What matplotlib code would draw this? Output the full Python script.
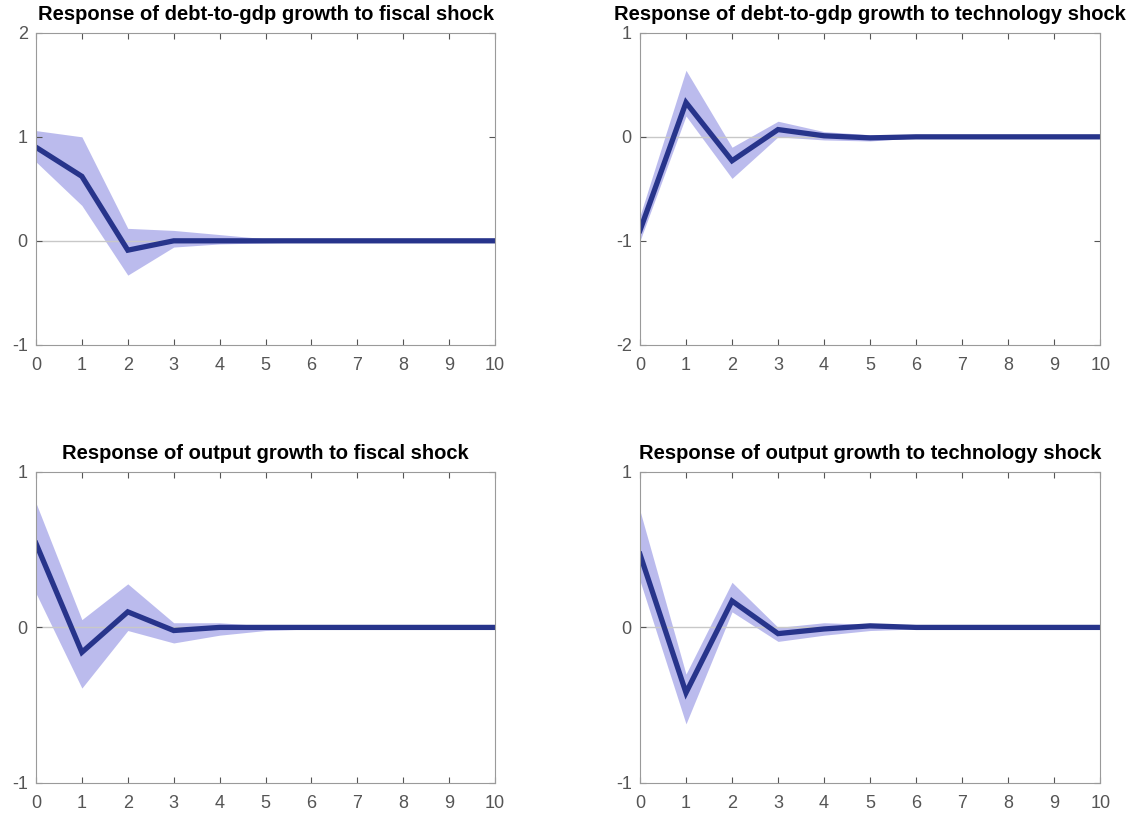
import numpy as np
import matplotlib
matplotlib.use('Agg')
import matplotlib.pyplot as plt

plt.rcParams['font.family'] = ['Liberation Sans', 'DejaVu Sans']
plt.rcParams['axes.unicode_minus'] = False

horizon = list(range(11))

titles = ['Response of debt-to-gdp growth to fiscal shock',
          'Response of debt-to-gdp growth to technology shock',
          'Response of output growth to fiscal shock',
          'Response of output growth to technology shock']

# median responses
debt_fiscal = [0.90, 0.62, -0.09, 0.00, 0.00, 0.00, 0.00, 0.00, 0.00, 0.00, 0.00]
debt_tech = [-0.90, 0.33, -0.23, 0.07, 0.01, -0.01, 0.00, 0.00, 0.00, 0.00, 0.00]
output_fiscal = [0.54, -0.16, 0.10, -0.02, 0.00, 0.00, 0.00, 0.00, 0.00, 0.00, 0.00]
output_tech = [0.47, -0.42, 0.17, -0.04, -0.01, 0.01, 0.00, 0.00, 0.00, 0.00, 0.00]

# error bands (upper / lower)
debt_fiscal_hi = [1.06, 1.00, 0.12, 0.10, 0.06, 0.02, 0.01, 0.00, 0.00, 0.00, 0.00]
debt_fiscal_lo = [0.76, 0.34, -0.33, -0.06, -0.03, -0.02, -0.01, 0.00, 0.00, 0.00, 0.00]
debt_tech_hi = [-0.76, 0.64, -0.10, 0.15, 0.05, 0.02, 0.01, 0.00, 0.00, 0.00, 0.00]
debt_tech_lo = [-1.00, 0.20, -0.40, 0.00, -0.03, -0.04, -0.01, 0.00, 0.00, 0.00, 0.00]
output_fiscal_hi = [0.80, 0.05, 0.28, 0.03, 0.03, 0.01, 0.00, 0.00, 0.00, 0.00, 0.00]
output_fiscal_lo = [0.22, -0.39, -0.02, -0.10, -0.05, -0.02, -0.01, 0.00, 0.00, 0.00, 0.00]
output_tech_hi = [0.75, -0.30, 0.29, 0.00, 0.03, 0.02, 0.01, 0.00, 0.00, 0.00, 0.00]
output_tech_lo = [0.30, -0.62, 0.10, -0.09, -0.05, -0.02, -0.01, 0.00, 0.00, 0.00, 0.00]

medians = [debt_fiscal, debt_tech, output_fiscal, output_tech]
uppers = [debt_fiscal_hi, debt_tech_hi, output_fiscal_hi, output_tech_hi]
lowers = [debt_fiscal_lo, debt_tech_lo, output_fiscal_lo, output_tech_lo]
ylims = [(-1, 2), (-2, 1), (-1, 1), (-1, 1)]

positions = [[0.0315, 0.580, 0.402, 0.380],
             [0.5604, 0.580, 0.403, 0.380],
             [0.0315, 0.0463, 0.402, 0.379],
             [0.5604, 0.0463, 0.403, 0.379]]

fig = plt.figure(figsize=(11.42, 8.21), dpi=100)

for i in range(4):
    ax = fig.add_axes(positions[i])
    ax.fill_between(horizon, lowers[i], uppers[i], color='#b4b4ec', lw=0, alpha=0.9)
    ax.axhline(0, color='#c8c8c8', lw=1, zorder=1)
    ax.plot(horizon, medians[i], color='#27348b', lw=3.8, solid_joinstyle='miter')
    ax.set_xlim(0, 10)
    ax.set_ylim(*ylims[i])
    ax.set_xticks(horizon)
    lo, hi = ylims[i]
    ax.set_yticks(np.arange(lo, hi + 1))
    ax.tick_params(direction='in', top=True, right=True, labelsize=13,
                   colors='#555555', length=4)
    ax.tick_params(axis='x', pad=9)
    ax.tick_params(axis='y', pad=6)
    for s in ax.spines.values():
        s.set_color('#9a9a9a')
    ax.set_title(titles[i], fontsize=14.5, fontweight='bold', pad=9)

plt.savefig('out.png', dpi=100)
